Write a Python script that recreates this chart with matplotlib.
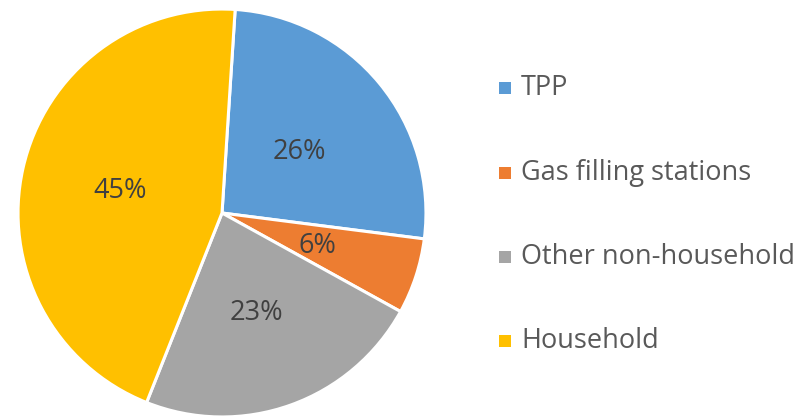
import matplotlib.pyplot as plt
from matplotlib.patches import Rectangle

# data
categories = ["TPP", "Gas filling stations", "Other non-household", "Household"]
shares = [26, 6, 23, 45]
colors = ["#5B9BD5", "#ED7D31", "#A5A5A5", "#FFC000"]

plt.rcParams["font.family"] = ["Open Sans", "DejaVu Sans"]

W, H = 805, 417
fig = plt.figure(figsize=(W / 100, H / 100), dpi=100)

# pie axes: centre ~ (222, 213) px, radius ~ 206 px
cx, cy, r = 222, 213, 206
ax = fig.add_axes([(cx - r) / W, (H - cy - r) / H, 2 * r / W, 2 * r / H])
wedges, texts, autotexts = ax.pie(
    shares,
    colors=colors,
    startangle=86.3,
    counterclock=False,
    radius=1,
    autopct="%d%%",
    pctdistance=0.5,
    wedgeprops=dict(edgecolor="white", linewidth=2.2),
    textprops=dict(color="#404040", fontsize=19.5),
)
ax.set_xlim(-1.01, 1.01)
ax.set_ylim(-1.01, 1.01)
ax.set_aspect("equal")

# Excel-style label placement (in pie units)
label_xy = [(0.38, 0.30), (0.47, -0.16), (0.17, -0.49), (-0.50, 0.11)]
for t, (x, y) in zip(autotexts, label_xy):
    t.set_position((x, y))
    t.set_ha("center")
    t.set_va("center")

# legend drawn by hand
row_y = [88, 173, 257, 341]
for name, col, y in zip(categories, colors, row_y):
    sq = 12
    fig.patches.append(Rectangle((499 / W, (H - y - sq / 2) / H), sq / W, sq / H,
                                 transform=fig.transFigure, facecolor=col, edgecolor="none"))
    fig.text(521 / W, (H - y) / H, name, color="#595959", fontsize=19.5,
             ha="left", va="center")

fig.savefig("out.png", dpi=100)
